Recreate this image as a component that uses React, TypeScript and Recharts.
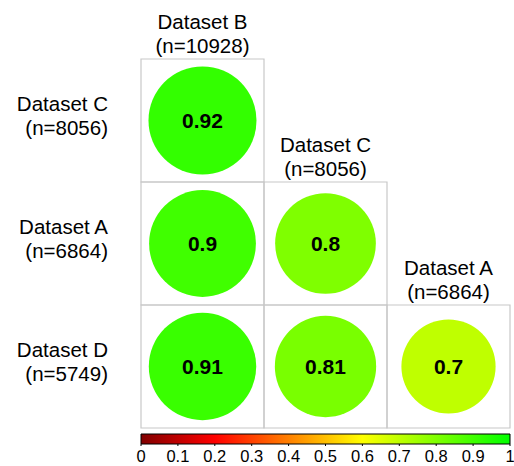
import React from "react";
import {
  ScatterChart, Scatter, XAxis, YAxis, ZAxis, Cell, LabelList, ReferenceArea,
} from "recharts";

const rowNames = ["Dataset C", "Dataset A", "Dataset D"];
const rowCounts = ["(n=8056)", "(n=6864)", "(n=5749)"];
const colNames = ["Dataset B", "Dataset C", "Dataset A"];
const colCounts = ["(n=10928)", "(n=8056)", "(n=6864)"];
const row0 = [0.92];
const row1 = [0.9, 0.8];
const row2 = [0.91, 0.81, 0.7];
const scaleTicks = [0, 0.1, 0.2, 0.3, 0.4, 0.5, 0.6, 0.7, 0.8, 0.9, 1];

const STOPS: [number, number[]][] = [
  [0, [128, 0, 0]],
  [0.2, [255, 0, 0]],
  [0.4, [255, 128, 0]],
  [0.6, [255, 255, 0]],
  [1, [0, 255, 0]],
];

function colorOf(v: number) {
  for (let i = 1; i < STOPS.length; i++) {
    const [p1, c1] = STOPS[i];
    const [p0, c0] = STOPS[i - 1];
    if (v <= p1) {
      const t = (v - p0) / (p1 - p0);
      const c = c0.map((a, k) => Math.round(a + (c1[k] - a) * t));
      return `rgb(${c[0]},${c[1]},${c[2]})`;
    }
  }
  return "rgb(0,255,0)";
}

const FONT = "'Liberation Sans', Arial, Helvetica, sans-serif";
const N = 3;

const cells = [row0, row1, row2].flatMap((vals, i) =>
  vals.map((v, j) => ({ x: j + 0.5, y: N - i - 0.5, v }))
);
const colHeads = colNames.map((name, j) => ({ x: j + 0.5, y: N - j, name, count: colCounts[j] }));
const rowHeads = rowNames.map((name, i) => ({ x: 0, y: N - i - 0.5, name, count: rowCounts[i] }));
const scaleEnds = [{ x: 0, y: 0 }, { x: 1, y: 1 }];

const ColHead = (p: any) => (
  <text x={p.cx} y={p.cy} textAnchor="middle" fontFamily={FONT} fontSize={20.5} fill="#000">
    <tspan x={p.cx} dy={-30}>{p.payload.name}</tspan>
    <tspan x={p.cx} dy={24}>{p.payload.count}</tspan>
  </text>
);

const RowHead = (p: any) => (
  <text x={p.cx - 33} y={p.cy} textAnchor="end" fontFamily={FONT} fontSize={20.5} fill="#000">
    <tspan x={p.cx - 33} dy={-10}>{p.payload.name}</tspan>
    <tspan x={p.cx - 33} dy={24}>{p.payload.count}</tspan>
  </text>
);

const renderScaleTick = (p: any) => (
  <text key={p.index} x={p.x} y={462} textAnchor="middle" fontFamily={FONT} fontSize={16.5} fill="#000"
    style={{ fontSize: 16.5 }}>
    {String(p.payload.value)}
  </text>
);

const Nothing = () => <g />;

export default function App() {
  return (
    <div style={{ position: "absolute", left: 0, top: 0, width: 514, height: 466, background: "#fff" }}>
      <div style={{ position: "absolute", left: 0, top: 0 }}>
        <ScatterChart width={514} height={466} margin={{ top: 59, left: 141, right: 4, bottom: 38 }}>
          <XAxis type="number" dataKey="x" domain={[0, N]} hide />
          <YAxis type="number" dataKey="y" domain={[0, N]} hide />
          <ZAxis type="number" dataKey="v" domain={[0, 1]} range={[0, Math.PI * 56.3 * 56.3]} />
          {[row0, row1, row2].flatMap((vals, i) =>
            vals.map((_, j) => (
              <ReferenceArea key={`g${i}-${j}`} x1={j} x2={j + 1} y1={N - i - 1} y2={N - i}
                fill="#fff" fillOpacity={0} stroke="#c8c8c8" strokeWidth={1.2} />
            ))
          )}
          <Scatter data={cells} shape="circle" isAnimationActive={false}>
            {cells.map((c, k) => <Cell key={k} fill={colorOf(c.v)} />)}
            <LabelList dataKey="v" position="center" fill="#000" fontSize={21} fontWeight="bold" fontFamily={FONT} />
          </Scatter>
          <Scatter data={colHeads} shape={ColHead} isAnimationActive={false} />
          <Scatter data={rowHeads} shape={RowHead} isAnimationActive={false} />
        </ScatterChart>
      </div>
      <div style={{ position: "absolute", left: 0, top: 0 }}>
        <ScatterChart width={514} height={466} margin={{ top: 434, left: 141, right: 4, bottom: 2 }}>
          <defs>
            <linearGradient id="scale" x1="0" y1="0" x2="1" y2="0">
              {STOPS.map(([p, c]) => (
                <stop key={p} offset={p} stopColor={`rgb(${c[0]},${c[1]},${c[2]})`} />
              ))}
            </linearGradient>
          </defs>
          <XAxis type="number" dataKey="x" domain={[0, 1]} ticks={scaleTicks} height={20}
            axisLine={false} tickLine={{ stroke: "#000" }} tickSize={2} tickMargin={1}
            tick={renderScaleTick} interval={0} />
          <YAxis type="number" dataKey="y" domain={[0, 1]} hide />
          <ReferenceArea x1={0} x2={1} y1={0} y2={1} fill="url(#scale)" fillOpacity={1} stroke="#000" strokeWidth={1} />
          <Scatter data={scaleEnds} shape={Nothing} isAnimationActive={false} />
        </ScatterChart>
      </div>
    </div>
  );
}
